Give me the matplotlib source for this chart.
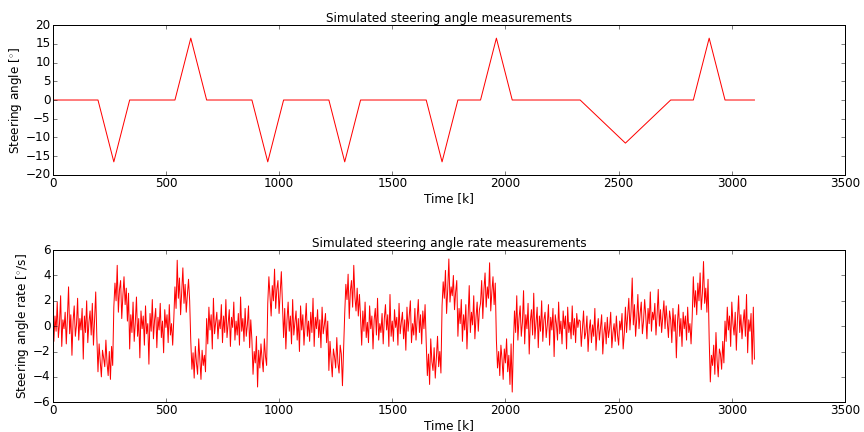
import matplotlib
matplotlib.use("Agg")
import matplotlib.pyplot as plt
import numpy as np

plt.style.use("classic")
plt.rcParams["xtick.major.pad"] = 2
plt.rcParams["ytick.major.pad"] = 2
plt.rcParams["axes.labelpad"] = 2

# steering angle breakpoints (time k, angle deg)
angle_k = [0, 200, 270, 340, 540, 610, 680, 880, 950, 1020, 1220, 1290, 1360,
           1650, 1720, 1790, 1890, 1960, 2030, 2330, 2530, 2730, 2830, 2900,
           2970, 3100]
angle_deg = [0, 0, -16.5, 0, 0, 16.5, 0, 0, -16.5, 0, 0, -16.5, 0,
             0, -16.5, 0, 0, 16.5, 0, 0, -11.5, 0, 0, 16.5,
             0, 0]

# steering angle rate, read every 5 k
rate_step = 5
rate = [
    # 0-200
    0.3, -1.2, 0.8, -0.4, 1.9, -0.9, 0.2, 2.4, -1.6, 0.5, -0.2, 1.1, -1.4, 0.7, 3.1, -0.6, 0.9, -2.3, 0.4, 1.6,
    -0.8, 0.1, 2.2, -1.1, 0.6, -0.3, 1.4, -2.6, 0.8, -0.5, 2.0, -1.3, 0.3, 1.2, -0.7, 1.8, -1.5, 0.5, 2.7, -0.9,
    # 200-270
    -3.6, -1.4, -2.8, -4.0, -1.9, -2.5, -3.2, -1.1, -2.9, -3.9, -2.0, -4.2, -1.6, -3.1,
    # 270-340
    1.5, 3.4, 2.0, 4.8, 1.1, 2.9, 3.6, 0.6, 2.4, 3.9, 1.7, 3.0, 0.4, 2.6,
    # 340-540
    -1.8, 0.9, -0.5, 1.9, -1.2, 0.3, 2.3, -0.8, 0.6, -2.5, 1.2, -0.2, 0.8, -1.5, 1.6, -0.6, 0.2, -3.0, 1.0, -0.4,
    2.1, -1.0, 0.5, 1.4, -1.7, 0.7, -0.3, 1.8, -0.9, 0.4, -2.1, 1.3, -0.1, 0.9, -1.3, 1.7, -0.7, 0.2, -1.5, 0.6,
    # 540-610
    3.1, 1.4, 5.2, 2.2, 3.8, 0.9, 2.7, 4.6, 1.8, 3.3, 1.1, 2.5, 3.7, 2.0,
    # 610-680
    -1.2, -3.4, -2.1, -4.1, -1.6, -2.9, -3.8, -1.0, -2.6, -4.2, -1.9, -3.1, -2.3, -3.6,
    # 680-880
    0.6, -1.4, 1.5, -0.3, 0.9, -1.8, 2.2, -0.6, 0.3, 1.1, -1.0, 0.5, -0.2, 1.7, -1.3, 0.8, -0.5, 2.1, -0.9, 0.2,
    1.3, -1.6, 0.7, -0.1, 1.9, -1.1, 0.4, -0.7, 1.0, -1.5, 2.3, -0.4, 0.6, -1.2, 1.4, -0.8, 0.1, 1.6, -1.7, 0.5,
    # 880-950
    -1.1, -3.8, -2.0, -2.9, -0.8, -4.8, -1.9, -3.3, -1.4, -2.6, -3.6, -1.0, -2.4, -3.1,
    # 950-1020
    1.8, 3.9, 2.4, 0.8, 3.2, 2.0, 4.5, 1.4, 2.9, 3.6, 1.0, 2.6, 4.3, 1.6,
    # 1020-1220
    -0.9, 1.4, -1.8, 0.5, 1.9, -0.4, 0.8, -1.4, 2.1, -0.7, 0.3, 1.2, -1.1, 0.6, -2.0, 1.6, -0.3, 0.9, -1.5, 0.2,
    1.8, -0.8, 0.4, -1.2, 1.1, -0.5, 2.2, -1.6, 0.7, -0.2, 1.3, -0.9, 0.5, -1.7, 1.5, -0.6, 0.1, 1.0, -1.3, 0.4,
    # 1220-1290
    -3.5, -1.2, -2.7, -4.0, -1.8, -2.4, -3.3, -0.9, -2.9, -3.7, -1.5, -2.2, -4.7, -1.9,
    # 1290-1360
    1.0, 3.3, 2.1, 4.1, 0.6, 2.8, 3.6, 1.5, 4.8, 2.3, 1.2, 3.0, 0.8, 2.5,
    # 1360-1650
    0.7, -1.5, 1.2, -0.4, 1.9, -0.9, 0.3, -1.3, 1.6, -0.2, 0.8, -1.8, 0.5, 1.4, -0.7, 2.2, -1.1, 0.2, -0.5, 1.0,
    -1.4, 0.6, 1.7, -0.3, 0.9, -1.6, 2.5, -0.8, 0.4, -1.2, 1.3, -0.1, 0.7, -1.5, 1.8, -0.6, 0.3, 1.1, -1.0, 0.5,
    -1.9, 1.5, -0.4, 0.8, 2.0, -1.3, 0.2, -0.7, 1.4, -1.1, 0.6, 2.1, -0.5, 0.9, -1.4, 1.2, -0.2, 1.7,
    # 1650-1720
    -1.3, -3.9, -2.2, -4.6, -1.0, -2.8, -3.5, -1.7, -4.1, -2.4, -0.8, -3.2, -2.0, -3.7,
    # 1720-1790
    1.6, 3.5, 2.2, 4.4, 1.0, 2.9, 5.3, 1.9, 3.1, 2.4, 4.0, 1.3, 2.7, 3.6,
    # 1790-1890
    -0.8, 1.4, 0.2, 2.1, -1.2, 0.9, -0.3, 1.7, -1.8, 0.6, 3.2, -0.5, 1.1, 0.1, 2.4, -1.0, 0.7, 1.9, -0.4, 1.3,
    # 1890-1960
    1.8, 3.6, 0.6, 2.9, 4.2, 1.5, 3.1, 2.2, 5.0, 1.2, 2.7, 3.9, 1.7, 3.4,
    # 1960-2030
    -1.1, -3.3, -2.0, -3.9, -1.5, -2.6, -4.2, -1.8, -2.9, -1.0, -3.6, -2.3, -4.6, -1.4,
    # 2030-2330
    -5.2, -1.6, 1.2, -0.5, 2.4, -1.1, 0.6, 1.6, -0.8, 0.3, 2.8, -1.4, 0.9, -0.2, 1.8, -2.2, 0.4, 1.3, -0.7, 2.6,
    -1.0, 0.2, 1.5, -1.7, 0.8, -0.4, 2.0, -1.2, 0.5, 1.1, -0.9, 0.1, 1.7, -1.5, 0.7, -0.3, 1.4, -2.4, 0.9, 0.2,
    -1.1, 1.9, -0.6, 0.4, -1.4, 1.2, -0.2, 0.8, -1.8, 1.5, -0.5, 0.3, -1.0, 1.6, -0.7, 0.6, -1.3, 1.0, -0.1, 0.5,
    # 2330-2530
    0.4, -1.6, -0.2, 1.2, -1.0, -0.5, 0.8, -2.0, -0.3, 0.5, -1.3, 0.1, -0.8, 1.4, -1.9, -0.4, 0.6, -1.1, -0.1, 0.9,
    -2.2, -0.6, 0.3, -1.4, 0.7, -0.9, -0.2, 1.1, -1.7, -0.5, 0.2, -1.2, 0.8, -0.7, -1.5, 0.4, -0.3, 1.0, -1.8, -0.6,
    # 2530-2730
    1.5, -0.5, 0.9, 2.2, -0.3, 1.2, 3.8, 0.1, 1.7, -0.8, 0.6, 2.5, -0.2, 1.0, 1.9, -0.6, 0.4, 2.1, 0.8, -1.0,
    1.4, 0.2, 2.7, -0.4, 1.1, 0.5, 1.8, -0.7, 0.9, 2.9, 0.0, 1.3, -0.5, 0.7, 2.0, -0.2, 1.6, 0.3, -0.9, 1.2,
    # 2730-2830
    0.5, -1.3, 1.4, -0.4, 0.9, -2.5, 0.3, 1.7, -0.8, 0.6, -1.6, 1.1, -0.2, 0.8, -1.1, 1.5, -0.5, 0.2, -1.4, 0.7,
    # 2830-2900
    3.9, 1.5, 2.8, 0.9, 3.4, 2.0, 4.2, 1.3, 2.6, 5.1, 1.8, 3.0, 1.1, 3.7,
    # 2900-2970
    -1.0, -4.4, -2.3, -3.1, -1.5, -3.8, -0.5, -2.7, -4.0, -1.8, -2.2, -3.4, -1.2, -2.9,
    # 2970-3100
    0.4, -1.2, 1.5, -0.3, 0.8, -1.6, 1.9, 0.2, -0.7, 1.1, -1.9, 0.6, 2.4, -0.5, 0.9, -1.0, 0.3, 1.3, -0.8, 2.5,
    -2.1, 0.5, -0.4, 1.0, -3.0, 1.5, -2.6,
]
rate_k = np.arange(len(rate)) * rate_step

# 12x6 in at 72 dpi -> 864x432 px
fig = plt.figure(figsize=(12, 6), dpi=72, facecolor="white")

ax1 = fig.add_axes([0.061, 0.595, 0.917, 0.347])
ax1.plot(angle_k, angle_deg, color="r", linewidth=1.0)
ax1.set_xlim(0, 3500)
ax1.set_ylim(-20, 20)
ax1.set_title("Simulated steering angle measurements", fontsize=12, pad=3)
ax1.set_xlabel("Time [k]")
ax1.set_ylabel("Steering angle [$^{\\circ}$]")

ax2 = fig.add_axes([0.061, 0.069, 0.917, 0.352])
ax2.plot(rate_k, rate, color="r", linewidth=1.0)
ax2.set_xlim(0, 3500)
ax2.set_ylim(-6, 6)
ax2.set_title("Simulated steering angle rate measurements", fontsize=12, pad=3)
ax2.set_xlabel("Time [k]")
ax2.set_ylabel("Steering angle rate [$^{\\circ}$/s]")

fig.savefig("out.png", dpi=72, facecolor="white")
